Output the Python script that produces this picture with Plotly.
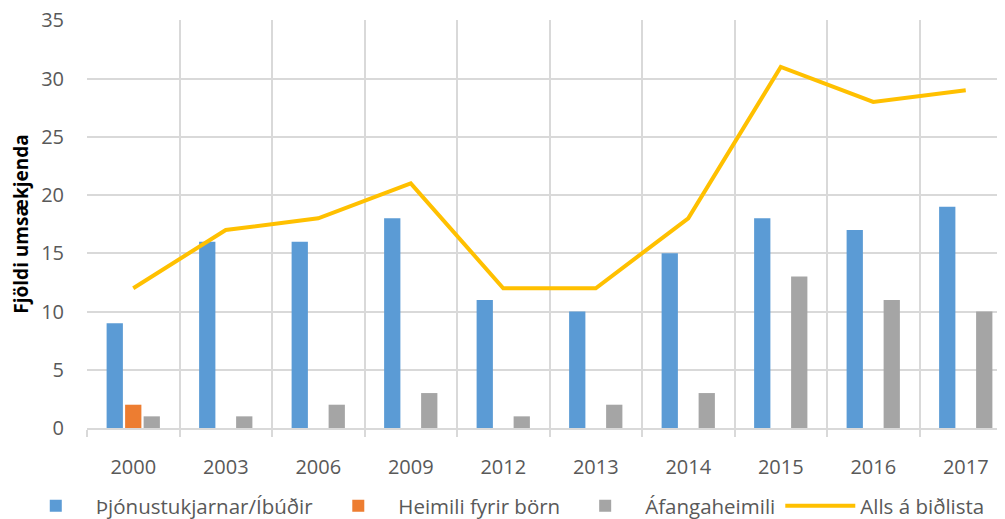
import plotly.graph_objects as go

years = ["2000", "2003", "2006", "2009", "2012", "2013", "2014", "2015", "2016", "2017"]
thjonustukjarnar = [9, 16, 16, 18, 11, 10, 15, 18, 17, 19]
heimili_born = [2, None, None, None, None, None, None, None, None, None]
afangaheimili = [1, 1, 2, 3, 1, 2, 3, 13, 11, 10]
alls_bidlista = [12, 17, 18, 21, 12, 12, 18, 31, 28, 29]

y_ticks = [0, 5, 10, 15, 20, 25, 30, 35]

FONT = "Open Sans"
TXT = "#595959"
GRID = "#D9D9D9"

fig = go.Figure()
fig.add_trace(go.Bar(name="Þjónustukjarnar/Íbúðir", x=years, y=thjonustukjarnar,
                     marker=dict(color="#5B9BD5", line=dict(width=0))))
fig.add_trace(go.Bar(name="Heimili fyrir börn", x=years, y=heimili_born,
                     marker=dict(color="#ED7D31", line=dict(width=0))))
fig.add_trace(go.Bar(name="Áfangaheimili", x=years, y=afangaheimili,
                     marker=dict(color="#A5A5A5", line=dict(width=0))))
fig.add_trace(go.Scatter(name="Alls á biðlista", x=years, y=alls_bidlista, mode="lines",
                         line=dict(color="#FFC000", width=4)))

fig.update_layout(
    width=1005, height=519,
    margin=dict(l=79, r=1, t=12, b=99, autoexpand=False),
    paper_bgcolor="white", plot_bgcolor="white",
    barmode="group", bargap=0.4, bargroupgap=0.12,
    font=dict(family=FONT, size=20, color=TXT),
    showlegend=True,
    legend=dict(orientation="h", x=-0.077, xanchor="left", y=-0.191, yanchor="middle",
                font=dict(family=FONT, size=20.5, color=TXT), traceorder="normal",
                itemwidth=70),
    xaxis=dict(type="category", tickson="boundaries", showgrid=True, gridcolor=GRID,
               gridwidth=1.5, ticks="outside", ticklen=7, tickcolor=GRID, tickwidth=1.5,
               showline=True, linecolor=GRID, linewidth=2, automargin=False,
               tickfont=dict(family=FONT, size=20, color=TXT), ticklabelstandoff=20),
    yaxis=dict(range=[0, 35.03], tickvals=y_ticks, showgrid=True, gridcolor=GRID,
               gridwidth=1.5, zeroline=False, showline=False, automargin=False,
               ticklabeloverflow="allow",
               tickfont=dict(family=FONT, size=20, color=TXT), ticklabelstandoff=22,
               title=dict(text="<b>Fjöldi umsækjenda</b>", standoff=10,
                          font=dict(family=FONT, size=19, color="black"))),
)

fig.write_html("out.html")
